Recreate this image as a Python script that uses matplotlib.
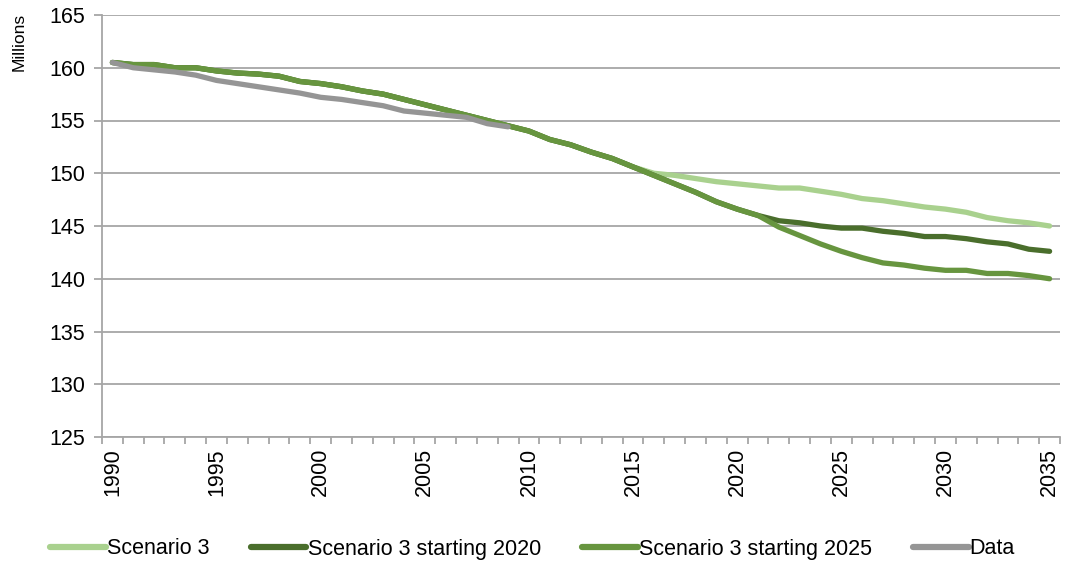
import matplotlib
matplotlib.use("Agg")
import matplotlib.pyplot as plt
import numpy as np

years = list(range(1990, 2036))

scenario3 = [160.5, 160.3, 160.3, 160.0, 160.0, 159.7, 159.5, 159.4, 159.2, 158.7,
             158.5, 158.2, 157.8, 157.5, 157.0, 156.5, 156.0, 155.5, 155.0, 154.5,
             154.0, 153.2, 152.7, 152.0, 151.4, 150.6, 150.0, 149.8, 149.5, 149.2,
             149.0, 148.8, 148.6, 148.6, 148.3, 148.0, 147.6, 147.4, 147.1, 146.8,
             146.6, 146.3, 145.8, 145.5, 145.3, 145.0]

scenario3_2020 = [160.5, 160.3, 160.3, 160.0, 160.0, 159.7, 159.5, 159.4, 159.2, 158.7,
                  158.5, 158.2, 157.8, 157.5, 157.0, 156.5, 156.0, 155.5, 155.0, 154.5,
                  154.0, 153.2, 152.7, 152.0, 151.4, 150.6, 149.8, 149.0, 148.2, 147.3,
                  146.6, 146.0, 145.5, 145.3, 145.0, 144.8, 144.8, 144.5, 144.3, 144.0,
                  144.0, 143.8, 143.5, 143.3, 142.8, 142.6]

scenario3_2025 = [160.5, 160.3, 160.3, 160.0, 160.0, 159.7, 159.5, 159.4, 159.2, 158.7,
                  158.5, 158.2, 157.8, 157.5, 157.0, 156.5, 156.0, 155.5, 155.0, 154.5,
                  154.0, 153.2, 152.7, 152.0, 151.4, 150.6, 149.8, 149.0, 148.2, 147.3,
                  146.6, 146.0, 144.9, 144.1, 143.3, 142.6, 142.0, 141.5, 141.3, 141.0,
                  140.8, 140.8, 140.5, 140.5, 140.3, 140.0]

data_years = list(range(1990, 2010))
data = [160.5, 160.0, 159.8, 159.6, 159.3, 158.8, 158.5, 158.2, 157.9, 157.6,
        157.2, 157.0, 156.7, 156.4, 155.9, 155.7, 155.5, 155.3, 154.7, 154.4]

series = [
    ("Scenario 3", years, scenario3, "#A9D18E"),
    ("Scenario 3 starting 2020", years, scenario3_2020, "#4A6E2C"),
    ("Scenario 3 starting 2025", years, scenario3_2025, "#67953F"),
    ("Data", data_years, data, "#959595"),
]

yticks = [125, 130, 135, 140, 145, 150, 155, 160, 165]
xlabels = [str(y) for y in range(1990, 2036, 5)]

plt.rcParams['font.family'] = ['Liberation Sans', 'DejaVu Sans']
FS = 15.5

fig = plt.figure(figsize=(10.65, 5.64), dpi=100)
ax = fig.add_axes([102 / 1065, 1 - 437 / 564, (1060 - 102) / 1065, (437 - 15) / 564])

for name, xs, ys, col in series:
    idx = [years.index(x) for x in xs]
    ax.plot(idx, ys, color=col, lw=3.8, solid_capstyle='round',
            solid_joinstyle='round', label=name, zorder=3)

ax.set_xlim(-0.5, len(years) - 0.5)
ax.set_ylim(125, 165)
ax.set_yticks(yticks)
ax.set_yticklabels([str(v) for v in yticks], fontsize=FS, color="#000000")
ax.yaxis.grid(True, color="#A6A6A6", lw=1.3)
ax.set_axisbelow(True)

major_idx = [years.index(int(l)) for l in xlabels]
ax.set_xticks(major_idx)
ax.set_xticklabels(xlabels, rotation=90, fontsize=FS)
ax.set_xticks(np.arange(-0.5, len(years), 1.0), minor=True)
ax.tick_params(axis='x', which='major', length=0, pad=8)
ax.tick_params(axis='x', which='minor', length=5, color="#A6A6A6", width=1.3)
ax.tick_params(axis='y', length=6, color="#A6A6A6", width=1.3, pad=6)

for s in ['top', 'right']:
    ax.spines[s].set_visible(False)
for s in ['left', 'bottom']:
    ax.spines[s].set_color("#A6A6A6")
    ax.spines[s].set_linewidth(1.3)

fig.text(19 / 1065, 1 - 13 / 564, "Millions", rotation=90, fontsize=12.5,
         ha='center', va='top')

leg = fig.legend(loc='center', bbox_to_anchor=(0.5, 1 - 549 / 564), ncol=4,
                 frameon=False, fontsize=FS, handlelength=2.6, handletextpad=0.05,
                 columnspacing=1.9)
for line in leg.get_lines():
    line.set_linewidth(4.5)
    line.set_solid_capstyle('round')

fig.savefig("out.png", dpi=100)
